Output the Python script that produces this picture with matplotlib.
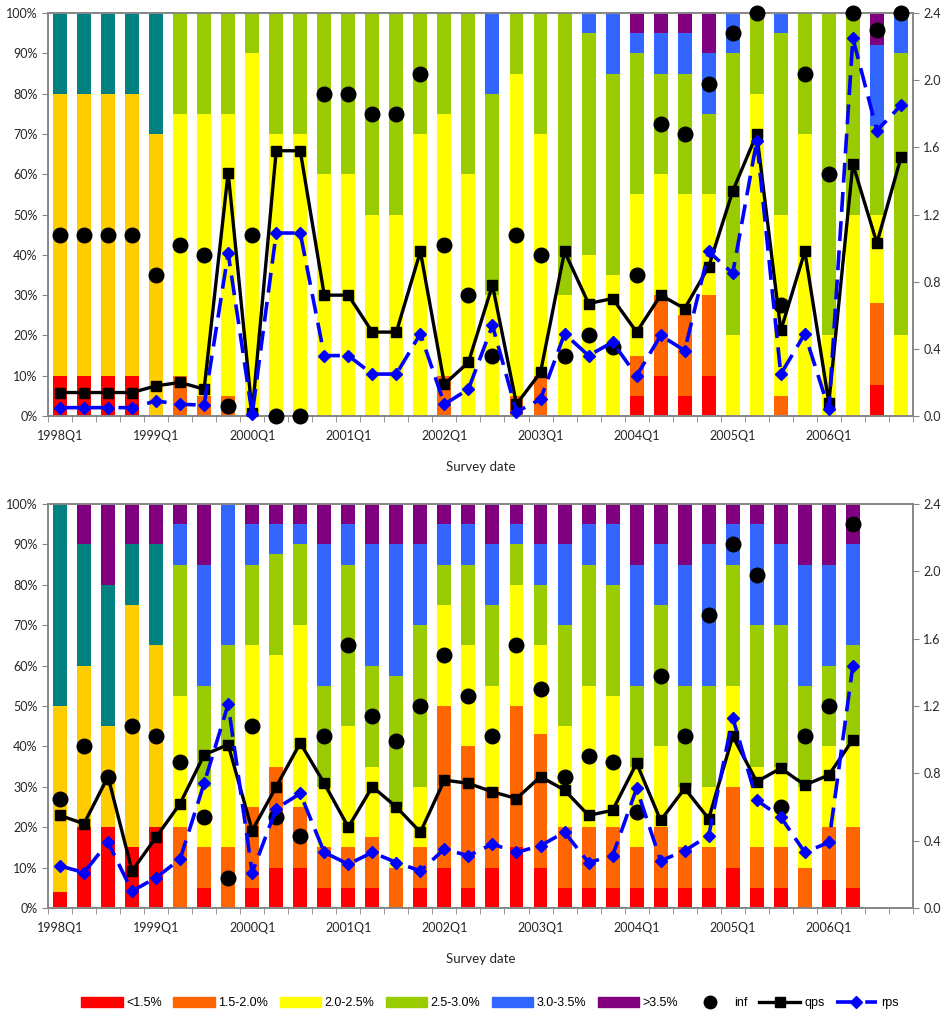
import matplotlib
matplotlib.use("Agg")
import matplotlib.pyplot as plt
import numpy as np
from matplotlib.patches import Patch
from matplotlib.lines import Line2D

plt.rcParams['font.family'] = ['Lato', 'DejaVu Sans']

quarters = [f"{y}Q{q}" for y in range(1998, 2007) for q in range(1, 5)]

# ---- top panel (36 surveys) ----
top_red = [10, 10, 10, 10, 0, 0, 0, 0, 0, 0, 0, 0, 0, 0, 0, 0, 0, 0, 0, 0, 0, 0, 0, 0,
           5, 10, 5, 10, 0, 0, 0, 0, 0, 0, 7.7, 0]
top_orange = [0, 0, 0, 0, 0, 10, 5, 5, 0, 0, 0, 0, 0, 0, 0, 0, 10, 0, 0, 5, 10, 0, 0, 0,
              10, 20, 20, 20, 0, 0, 5, 0, 0, 0, 20.3, 0]
top_gold = [70, 70, 70, 70, 70, 0, 0, 0, 0, 0, 0, 0, 0, 0, 0, 0, 0, 0, 0, 0, 0, 0, 0, 0,
            0, 0, 0, 0, 0, 0, 0, 0, 0, 0, 0, 0]
top_yellow = [0, 0, 0, 0, 0, 65, 70, 70, 90, 70, 70, 60, 60, 50, 50, 70, 65, 60, 30, 80, 60, 30, 40, 35,
              40, 30, 30, 25, 20, 80, 45, 70, 20, 50, 22, 20]
top_green = [0, 0, 0, 0, 0, 25, 25, 25, 10, 30, 30, 40, 40, 50, 50, 30, 25, 40, 50, 15, 30, 70, 55, 50,
             35, 25, 30, 20, 70, 20, 45, 30, 80, 50, 22, 70]
top_teal = [20, 20, 20, 20, 30, 0, 0, 0, 0, 0, 0, 0, 0, 0, 0, 0, 0, 0, 0, 0, 0, 0, 0, 0,
            0, 0, 0, 0, 0, 0, 0, 0, 0, 0, 0, 0]
top_blue = [0, 0, 0, 0, 0, 0, 0, 0, 0, 0, 0, 0, 0, 0, 0, 0, 0, 0, 20, 0, 0, 0, 5, 15,
            5, 10, 10, 15, 10, 0, 5, 0, 0, 0, 20, 10]
top_purple = [0, 0, 0, 0, 0, 0, 0, 0, 0, 0, 0, 0, 0, 0, 0, 0, 0, 0, 0, 0, 0, 0, 0, 0,
              5, 5, 5, 10, 0, 0, 0, 0, 0, 0, 8, 0]
top_inf = [1.08, 1.08, 1.08, 1.08, 0.84, 1.02, 0.96, 0.06, 1.08, 0, 0, 1.92, 1.92, 1.8, 1.8, 2.04,
           1.02, 0.72, 0.36, 1.08, 0.96, 0.36, 0.48, 0.41, 0.84, 1.74, 1.68, 1.98, 2.28, 2.4,
           0.66, 2.04, 1.44, 2.4, 2.3, 2.4]
top_qps = [0.14, 0.14, 0.14, 0.14, 0.18, 0.20, 0.16, 1.45, 0.02, 1.58, 1.58, 0.72, 0.72, 0.50, 0.50,
           0.98, 0.19, 0.32, 0.78, 0.07, 0.26, 0.98, 0.67, 0.70, 0.50, 0.72, 0.64, 0.89, 1.34, 1.68,
           0.51, 0.98, 0.08, 1.50, 1.03, 1.54]
top_rps = [0.05, 0.05, 0.05, 0.05, 0.09, 0.07, 0.065, 0.97, 0.01, 1.09, 1.09, 0.36, 0.36, 0.25, 0.25,
           0.49, 0.07, 0.16, 0.54, 0.025, 0.10, 0.49, 0.36, 0.44, 0.24, 0.48, 0.39, 0.98, 0.85, 1.64,
           0.25, 0.49, 0.04, 2.25, 1.70, 1.85]

# ---- bottom panel (34 surveys) ----
bot_red = [4, 20, 20, 15, 20, 0, 5, 0, 5, 10, 10, 5, 5, 5, 0, 5, 10, 5, 10, 15, 10, 5, 5, 5,
           5, 5, 5, 5, 10, 5, 5, 0, 7, 5]
bot_orange = [0, 0, 0, 0, 0, 20, 10, 15, 20, 25, 15, 10, 10, 12.5, 10, 10, 40, 35, 20, 35, 33, 15, 15, 15,
              10, 15, 10, 10, 20, 10, 10, 10, 13, 15]
bot_gold = [46, 40, 25, 60, 45, 0, 0, 0, 0, 0, 0, 0, 0, 0, 0, 0, 0, 0, 0, 0, 0, 0, 0, 0,
            0, 0, 0, 0, 0, 0, 0, 0, 0, 0]
bot_yellow = [0, 0, 0, 0, 0, 32.5, 15, 25, 40, 27.5, 45, 15, 30, 17.5, 15, 15, 25, 25, 25, 30, 22, 25, 35, 32.5,
              20, 20, 15, 15, 25, 20, 20, 20, 20, 20]
bot_green = [0, 0, 0, 0, 0, 32.5, 25, 25, 20, 25, 20, 25, 40, 25, 32.5, 40, 10, 20, 20, 10, 15, 25, 30, 27.5,
             20, 35, 25, 25, 30, 35, 35, 25, 20, 25]
bot_teal = [50, 30, 35, 15, 25, 0, 0, 0, 0, 0, 0, 0, 0, 0, 0, 0, 0, 0, 0, 0, 0, 0, 0, 0,
            0, 0, 0, 0, 0, 0, 0, 0, 0, 0]
bot_blue = [0, 0, 0, 0, 0, 10, 30, 35, 10, 7.5, 5, 35, 10, 30, 32.5, 20, 10, 10, 15, 5, 10, 20, 10, 15,
            30, 15, 30, 35, 10, 25, 20, 30, 25, 25]
bot_purple = [0, 10, 20, 10, 10, 5, 15, 0, 5, 5, 5, 10, 5, 10, 10, 10, 5, 5, 10, 5, 10, 10, 5, 5,
              15, 10, 15, 10, 5, 5, 10, 15, 15, 10]
bot_inf = [0.65, 0.96, 0.78, 1.08, 1.02, 0.87, 0.54, 0.18, 1.08, 0.54, 0.43, 1.02, 1.56, 1.14, 0.99, 1.20,
           1.50, 1.26, 1.02, 1.56, 1.30, 0.78, 0.90, 0.87, 0.57, 1.38, 1.02, 1.74, 2.16, 1.98, 0.60,
           1.02, 1.20, 2.28]
bot_qps = [0.55, 0.50, 0.78, 0.22, 0.42, 0.62, 0.91, 0.97, 0.46, 0.72, 0.98, 0.74, 0.48, 0.72, 0.60, 0.45,
           0.76, 0.74, 0.69, 0.65, 0.78, 0.70, 0.55, 0.58, 0.86, 0.52, 0.71, 0.53, 1.02, 0.75, 0.83,
           0.73, 0.79, 1.00]
bot_rps = [0.25, 0.21, 0.39, 0.10, 0.18, 0.29, 0.74, 1.21, 0.21, 0.59, 0.68, 0.33, 0.26, 0.33, 0.27, 0.22,
           0.35, 0.31, 0.38, 0.33, 0.37, 0.45, 0.27, 0.31, 0.71, 0.28, 0.34, 0.43, 1.13, 0.64, 0.54,
           0.33, 0.39, 1.44]

colors = ['#FF0000', '#FF6600', '#FFCC00', '#FFFF00', '#99CC00', '#008080', '#3366FF', '#800080']
axis_grey = '#868686'


def panel(ax, stacks, inf, qps, rps):
    n_all = len(quarters)
    bottom = np.zeros(len(stacks[0]))
    x = np.arange(len(stacks[0]))
    for vals, c in zip(stacks, colors):
        vals = np.array(vals, dtype=float)
        ax.bar(x, vals, 0.58, bottom=bottom, color=c, linewidth=0)
        bottom += vals
    ax.set_xlim(-0.5, n_all - 0.5)
    ax.set_ylim(0, 100)
    ax.set_yticks(range(0, 101, 10))
    ax.set_yticklabels([f"{v}%" for v in range(0, 101, 10)])
    ax.set_xticks(range(0, n_all, 4))
    ax.set_xticklabels(quarters[::4])
    ax.set_xticks(np.arange(-0.5, n_all, 1), minor=True)
    ax.tick_params(axis='x', which='major', length=0, pad=10, labelsize=9, colors='#262626')
    ax.tick_params(axis='x', which='minor', length=4, color=axis_grey, direction='out')
    ax.tick_params(axis='y', length=4, color=axis_grey, labelsize=9, labelcolor='#262626')
    for s in ax.spines.values():
        s.set_color(axis_grey)
        s.set_linewidth(1.2)
    ax.set_xlabel("Survey date", fontsize=9.5, labelpad=14, color='#262626')

    ax2 = ax.twinx()
    ax2.set_ylim(0, 2.4)
    ax2.set_yticks(np.arange(0, 2.41, 0.4))
    ax2.set_yticklabels([f"{v:.1f}" for v in np.arange(0, 2.41, 0.4)])
    ax2.tick_params(axis='y', length=4, color=axis_grey, labelsize=9, labelcolor='#262626')
    for s in ax2.spines.values():
        s.set_color(axis_grey)
        s.set_linewidth(1.2)
    xs = np.arange(len(inf))
    ax2.plot(xs, qps, color='black', lw=2.4, marker='s', ms=7.5, zorder=3)
    ax2.plot(xs, inf, linestyle='none', marker='o', ms=10.5, color='black', zorder=4, clip_on=False)
    ax2.plot(xs, rps, color='#0000FF', lw=2.6, linestyle=(0, (5.5, 2.6)), marker='D', ms=6.5,
             zorder=5, clip_on=False)
    return ax2


fig = plt.figure(figsize=(9.44, 10.13), dpi=100)
ax_top = fig.add_axes([0.0508, 0.5893, 0.9163, 0.3978])
ax_bot = fig.add_axes([0.0508, 0.1037, 0.9163, 0.3988])

panel(ax_top, [top_red, top_orange, top_gold, top_yellow, top_green, top_teal, top_blue, top_purple],
      top_inf, top_qps, top_rps)
panel(ax_bot, [bot_red, bot_orange, bot_gold, bot_yellow, bot_green, bot_teal, bot_blue, bot_purple],
      bot_inf, bot_qps, bot_rps)

handles = [Patch(color=colors[0], label='<1.5%'),
           Patch(color=colors[1], label='1.5-2.0%'),
           Patch(color=colors[3], label='2.0-2.5%'),
           Patch(color=colors[4], label='2.5-3.0%'),
           Patch(color=colors[6], label='3.0-3.5%'),
           Patch(color=colors[7], label='>3.5%'),
           Line2D([], [], linestyle='none', marker='o', ms=9, color='black', label='inf'),
           Line2D([], [], color='black', lw=2.4, marker='s', ms=7, label='qps'),
           Line2D([], [], color='#0000FF', lw=2.6, linestyle=(0, (5.5, 2.6)), marker='D', ms=6, label='rps')]
fig.legend(handles=handles, loc='center', bbox_to_anchor=(0.519, 1 - 1003 / 1013), ncol=9, frameon=False,
           handlelength=3.3, handleheight=0.9, columnspacing=0.9, handletextpad=0.3,
           prop={'family': ['Liberation Sans Narrow', 'Liberation Sans'], 'size': 9})

fig.savefig("out.png", dpi=100)
